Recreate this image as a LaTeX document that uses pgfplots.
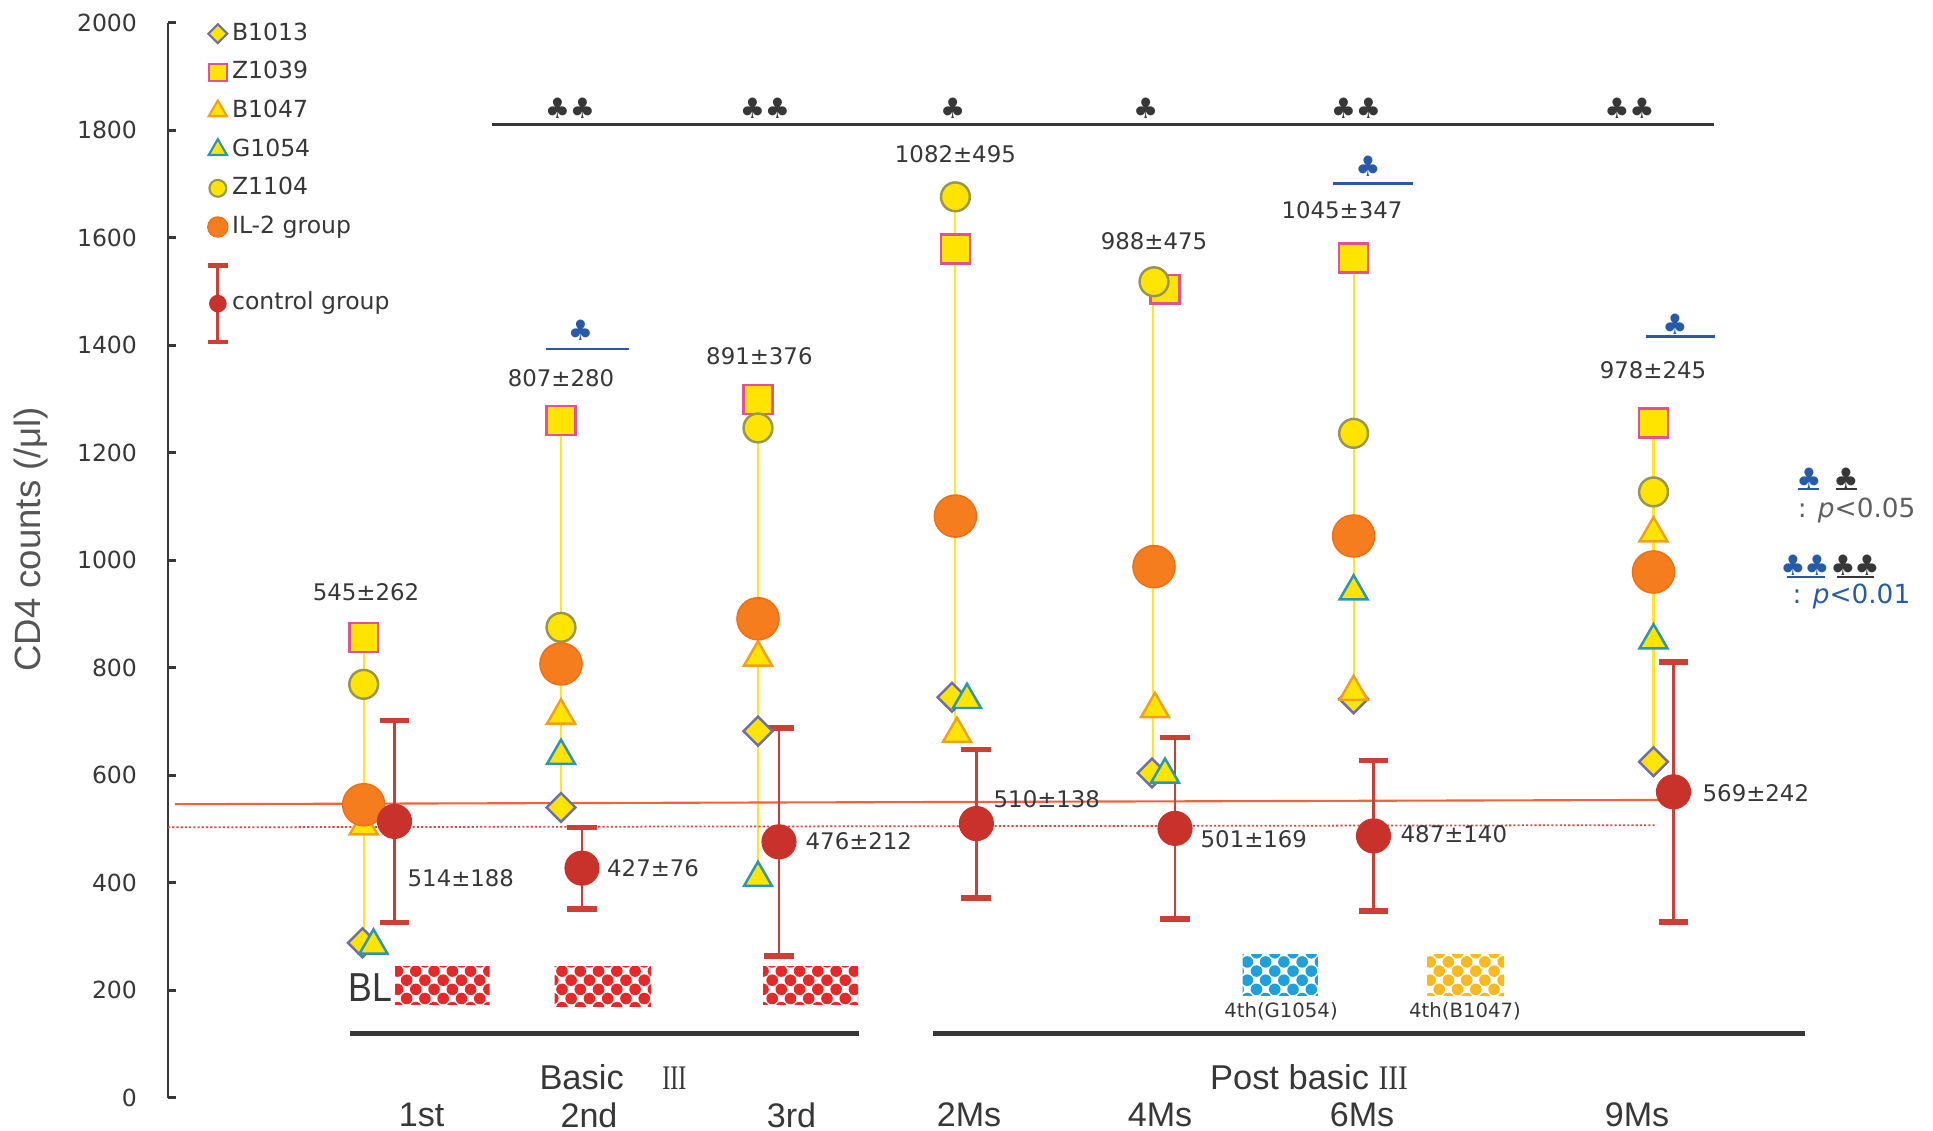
\documentclass[border=0pt]{standalone}
\usepackage{fontspec}
\setmainfont{DejaVu Sans}
\newfontfamily\labfont{Liberation Sans}
\newfontfamily\romfont{Liberation Serif}
\usepackage{pgfplots}
\pgfplotsset{compat=1.18}
\usetikzlibrary{patterns}

\definecolor{yelfill}{RGB}{255,228,0}
\definecolor{yelline}{RGB}{255,230,30}
\definecolor{sqedge}{RGB}{228,80,150}
\definecolor{trorange}{RGB}{240,160,30}
\definecolor{trteal}{RGB}{40,150,180}
\definecolor{dmedge}{RGB}{110,110,170}
\definecolor{circedge}{RGB}{150,150,80}
\definecolor{ilfill}{RGB}{245,125,30}
\definecolor{iledge}{RGB}{240,110,20}
\definecolor{ctrl}{RGB}{200,50,42}
\definecolor{ctrlbar}{RGB}{205,62,52}
\definecolor{refsolid}{RGB}{238,100,60}
\definecolor{refdot}{RGB}{225,70,70}
\definecolor{sigblue}{RGB}{40,90,170}
\definecolor{txt}{RGB}{55,55,55}
\definecolor{boxred}{RGB}{232,40,40}
\definecolor{boxblue}{RGB}{30,160,220}
\definecolor{boxorange}{RGB}{250,185,30}

% checkered bead fill for the treatment blocks
\pgfdeclarepatternformonly{beads}{\pgfqpoint{-0.5pt}{-0.5pt}}{\pgfqpoint{5.9pt}{5.9pt}}{\pgfqpoint{5.2pt}{5.2pt}}{%
  \pgfpathcircle{\pgfqpoint{1.3pt}{1.3pt}}{1.65pt}%
  \pgfpathcircle{\pgfqpoint{3.9pt}{3.9pt}}{1.65pt}%
  \pgfusepath{fill}%
}

\pgfplotsset{
  dm/.style={forget plot, only marks, mark=square*, mark size=2.9pt,
    mark options={rotate=45, fill=yelfill, draw=dmedge, line width=0.7pt}},
  sq/.style={forget plot, only marks, mark=square*, mark size=4.1pt,
    mark options={fill=yelfill, draw=sqedge, line width=0.7pt}},
  tro/.style={forget plot, only marks, mark=triangle*, mark size=4.6pt,
    mark options={fill=yelfill, draw=trorange, line width=0.7pt}},
  trt/.style={forget plot, only marks, mark=triangle*, mark size=4.6pt,
    mark options={fill=yelfill, draw=trteal, line width=0.7pt}},
  ci/.style={forget plot, only marks, mark=*, mark size=4.1pt,
    mark options={fill=yelfill, draw=circedge, line width=0.7pt}},
  il/.style={forget plot, only marks, mark=*, mark size=6pt,
    mark options={fill=ilfill, draw=iledge, line width=0.4pt}},
  rng/.style={forget plot, yelline, line width=0.6pt},
}

\newcommand\vlab{\fontsize{6.5}{7.5}\selectfont}
\newcommand\clubs{\fontsize{8}{9}\selectfont}
\newcommand\tplab{\labfont\fontsize{9.7}{11}\selectfont}

\begin{document}
\begin{tikzpicture}
\begin{axis}[
  scale only axis,
  width=17.65cm, height=10.75cm,
  xmin=168, xmax=1933, ymin=0, ymax=2000,
  clip=false,
  axis x line=none,
  axis y line=left,
  y axis line style={-, draw=txt, line width=0.8pt},
  ytick={0,200,...,2000},
  tick align=inside,
  major tick length=2.2pt,
  ytick style={draw=txt, line width=0.8pt},
  yticklabel style={font=\fontsize{6.7}{8}\selectfont, text=txt, xshift=-5.3pt},
  /pgf/number format/assume math mode=true,
  /pgf/number format/1000 sep={},
  legend cell align=left,
  legend style={at={(axis cs:205,2005)}, anchor=north west, draw=none, fill=none,
    inner sep=0pt, row sep=3.6pt, font=\fontsize{6.7}{8}\selectfont, text=txt,
    nodes={inner sep=0.6pt, text height=4.9pt, text depth=1.3pt},
    /tikz/every even column/.append style={column sep=1.2pt}},
]

% legend keys
\addlegendimage{legend image code/.code={\draw[mark=square*, mark size=1.9pt,
  mark options={rotate=45, fill=yelfill, draw=dmedge, line width=0.6pt}] plot coordinates {(0pt,0pt)};}}
\addlegendentry{B1013}
\addlegendimage{legend image code/.code={\draw[mark=square*, mark size=2.5pt,
  mark options={fill=yelfill, draw=sqedge, line width=0.6pt}] plot coordinates {(0pt,0pt)};}}
\addlegendentry{Z1039}
\addlegendimage{legend image code/.code={\draw[mark=triangle*, mark size=3pt,
  mark options={fill=yelfill, draw=trorange, line width=0.6pt}] plot coordinates {(0pt,0pt)};}}
\addlegendentry{B1047}
\addlegendimage{legend image code/.code={\draw[mark=triangle*, mark size=3pt,
  mark options={fill=yelfill, draw=trteal, line width=0.6pt}] plot coordinates {(0pt,0pt)};}}
\addlegendentry{G1054}
\addlegendimage{legend image code/.code={\draw[mark=*, mark size=2.4pt,
  mark options={fill=yelfill, draw=circedge, line width=0.6pt}] plot coordinates {(0pt,0pt)};}}
\addlegendentry{Z1104}
\addlegendimage{legend image code/.code={\draw[mark=*, mark size=2.9pt,
  mark options={fill=ilfill, draw=iledge, line width=0.3pt}] plot coordinates {(0pt,0pt)};}}
\addlegendentry{IL-2 group}
\addlegendimage{legend image code/.code={%
  \path[draw=none, fill=none] (-1pt,14.5pt) rectangle (1pt,-11.5pt);
  \draw[ctrlbar, line width=0.8pt] (0pt,-10.9pt) -- (0pt,10.9pt);
  \draw[ctrlbar, line width=1.3pt] (-2.8pt,10.9pt) -- (2.8pt,10.9pt);
  \draw[ctrlbar, line width=1.3pt] (-2.8pt,-10.9pt) -- (2.8pt,-10.9pt);
  \fill[ctrl] (0pt,0pt) circle (2.3pt);}}
\addlegendentry{control group}

% patient ranges
\addplot[rng] coordinates {(363.7,283) (363.7,856)};
\addplot[rng] coordinates {(561,540) (561,1260)};
\addplot[rng] coordinates {(758,409) (758,1299)};
\addplot[rng] coordinates {(955.4,677) (955.4,1676)};
\addplot[rng] coordinates {(1153,604) (1153,1518)};
\addplot[rng] coordinates {(1353.6,742) (1353.6,1562)};
\addplot[rng] coordinates {(1653.5,625) (1653.5,1255)};

% individual patients
\addplot[dm] coordinates {(362.5,288) (561,540) (758,682) (952,745) (1152,604) (1353.6,742) (1653.5,625)};
\addplot[sq] coordinates {(363.7,856) (561,1260) (758,1299) (955.4,1579) (1165,1504) (1353.6,1562) (1653.5,1255)};
\addplot[tro] coordinates {(363.7,505) (561,711) (758,819) (957,677) (1155,723) (1353.6,755) (1653.5,1050)};
\addplot[trt] coordinates {(373.5,283) (561,636) (758,409) (967,740) (1165,601) (1353.6,942) (1653.5,851)};
\addplot[ci] coordinates {(363.7,769) (561,875) (758,1246) (955.4,1676) (1154,1518) (1353.6,1236) (1653.5,1127)};

% IL-2 group means
\addplot[il] coordinates {(363.7,545) (561,807) (758,891) (955.4,1082) (1154,988) (1353.6,1045) (1653.5,978)};

% reference levels
\addplot[forget plot, refsolid, line width=0.6pt] coordinates {(175,546) (1674,554)};
\addplot[forget plot, refdot, line width=0.5pt, dash pattern=on 0.6pt off 0.6pt] coordinates {(168,503) (1655,507)};

% control group mean +- SD
\addplot[forget plot, only marks, mark=*, mark size=4.8pt, color=ctrl,
  mark options={fill=ctrl, draw=ctrl},
  error bars/.cd, y dir=both, y explicit,
  error bar style={line width=0.8pt, draw=ctrlbar},
  error mark options={rotate=90, line width=1.6pt, mark size=4.25pt, draw=ctrlbar}]
  coordinates {(394.5,514) +- (0,188) (582,427) +- (0,76) (779,476) +- (0,212)
    (976.4,510) +- (0,138) (1175,501) +- (0,169) (1373.5,487) +- (0,140) (1673.5,569) +- (0,242)};

% value labels, IL-2 group
\node[font=\vlab, text=txt] at (axis cs:366,941) {545±262};
\node[font=\vlab, text=txt] at (axis cs:561,1338) {807±280};
\node[font=\vlab, text=txt] at (axis cs:759.4,1379) {891±376};
\node[font=\vlab, text=txt] at (axis cs:955.4,1756) {1082±495};
\node[font=\vlab, text=txt] at (axis cs:1154,1593) {988±475};
\node[font=\vlab, text=txt] at (axis cs:1342,1651) {1045±347};
\node[font=\vlab, text=txt] at (axis cs:1653,1354) {978±245};

% value labels, control group
\node[font=\vlab, text=txt, anchor=west, inner sep=0pt] at (axis cs:407,409) {514±188};
\node[font=\vlab, text=txt, anchor=west, inner sep=0pt] at (axis cs:606.5,427) {427±76};
\node[font=\vlab, text=txt, anchor=west, inner sep=0pt] at (axis cs:805,478) {476±212};
\node[font=\vlab, text=txt, anchor=west, inner sep=0pt] at (axis cs:993,555) {510±138};
\node[font=\vlab, text=txt, anchor=west, inner sep=0pt] at (axis cs:1200,481) {501±169};
\node[font=\vlab, text=txt, anchor=west, inner sep=0pt] at (axis cs:1400,491) {487±140};
\node[font=\vlab, text=txt, anchor=west, inner sep=0pt] at (axis cs:1702,567) {569±242};

% significance versus baseline
\addplot[forget plot, txt, line width=0.8pt] coordinates {(492,1810.6) (1714,1810.6)};
\node[font=\clubs, text=txt] at (axis cs:570,1841) {♣♣};
\node[font=\clubs, text=txt] at (axis cs:765,1841) {♣♣};
\node[font=\clubs, text=txt] at (axis cs:952.7,1841) {♣};
\node[font=\clubs, text=txt] at (axis cs:1145.6,1841) {♣};
\node[font=\clubs, text=txt] at (axis cs:1356,1841) {♣♣};
\node[font=\clubs, text=txt] at (axis cs:1629.5,1841) {♣♣};

% significance versus control
\addplot[forget plot, sigblue, line width=0.7pt] coordinates {(546,1393) (628.7,1393)};
\node[font=\clubs, text=sigblue] at (axis cs:580.6,1427) {♣};
\addplot[forget plot, sigblue, line width=0.7pt] coordinates {(1333,1701) (1413,1701)};
\node[font=\clubs, text=sigblue] at (axis cs:1368,1732) {♣};
\addplot[forget plot, sigblue, line width=0.7pt] coordinates {(1646,1416) (1715,1416)};
\node[font=\clubs, text=sigblue] at (axis cs:1675,1438) {♣};

% key to the significance marks
\node[font=\clubs, text=sigblue] at (axis cs:1809,1153) {♣};
\addplot[forget plot, sigblue, line width=0.6pt] coordinates {(1798,1132) (1819,1132)};
\node[font=\clubs, text=txt] at (axis cs:1846,1153) {♣};
\addplot[forget plot, txt, line width=0.6pt] coordinates {(1836,1132) (1857,1132)};
\node[font=\fontsize{7.5}{9}\selectfont, text=txt!80] at (axis cs:1856.7,1093) {: \textit{p}<0.05};
\node[font=\clubs, text=sigblue] at (axis cs:1805,990) {♣\kern-0.3pt♣};
\addplot[forget plot, sigblue, line width=0.6pt] coordinates {(1786.7,968) (1825,968)};
\node[font=\clubs, text=txt] at (axis cs:1855,990) {♣\kern-0.3pt♣};
\addplot[forget plot, txt, line width=0.6pt] coordinates {(1837,968) (1874,968)};
\node[font=\fontsize{7.5}{9}\selectfont, text=sigblue] at (axis cs:1851.5,932) {: \textit{p}<0.01};

% treatment blocks
\fill[pattern=beads, pattern color=boxred] (axis cs:395,243.7) rectangle (axis cs:489.6,172.5);
\fill[pattern=beads, pattern color=boxred] (axis cs:554.6,243.7) rectangle (axis cs:651,170);
\fill[pattern=beads, pattern color=boxred] (axis cs:763,243.7) rectangle (axis cs:858,172.5);
\fill[pattern=beads, pattern color=boxblue] (axis cs:1242.7,265.5) rectangle (axis cs:1317.8,191);
\fill[pattern=beads, pattern color=boxorange] (axis cs:1427,265.5) rectangle (axis cs:1504,191);
\node[font=\labfont\fontsize{11.5}{12}\selectfont, text=txt, anchor=east, inner sep=0pt] at (axis cs:393,204) {\scalebox{0.88}[1]{BL}};
\node[font=\fontsize{5.6}{6.5}\selectfont, text=txt] at (axis cs:1281,160) {4th(G1054)};
\node[font=\fontsize{5.6}{6.5}\selectfont, text=txt] at (axis cs:1465,160) {4th(B1047)};

% phase brackets and time points
\addplot[forget plot, txt, line width=1.4pt] coordinates {(350,120) (859,120)};
\addplot[forget plot, txt, line width=1.4pt] coordinates {(933,120) (1805,120)};
\node[font=\labfont\fontsize{9.8}{11}\selectfont, text=txt] at (axis cs:613,39) {Basic\hspace{11pt}{\romfont\scalebox{0.7}[1]{III}}};
\node[font=\labfont\fontsize{9.8}{11}\selectfont, text=txt] at (axis cs:1309,39) {Post basic {\romfont\scalebox{0.85}[1]{III}}};
\node[font=\tplab, text=txt] at (axis cs:421.6,-32) {1st};
\node[font=\tplab, text=txt] at (axis cs:589,-32) {2nd};
\node[font=\tplab, text=txt] at (axis cs:791.5,-32) {3rd};
\node[font=\tplab, text=txt] at (axis cs:969,-32) {2Ms};
\node[font=\tplab, text=txt] at (axis cs:1160,-32) {4Ms};
\node[font=\tplab, text=txt] at (axis cs:1362,-32) {6Ms};
\node[font=\tplab, text=txt] at (axis cs:1637,-32) {9Ms};

% y axis title
\node[rotate=90, font=\labfont\fontsize{10.4}{12}\selectfont, text=txt!85] at (axis cs:31,1039) {CD4 counts (/μl)};

\coordinate (bbSW) at (axis cs:0,-62);
\coordinate (bbNE) at (axis cs:1933,2042.2);
\end{axis}
\pgfresetboundingbox
\path[use as bounding box] (bbSW) rectangle (bbNE);
\end{tikzpicture}
\end{document}
